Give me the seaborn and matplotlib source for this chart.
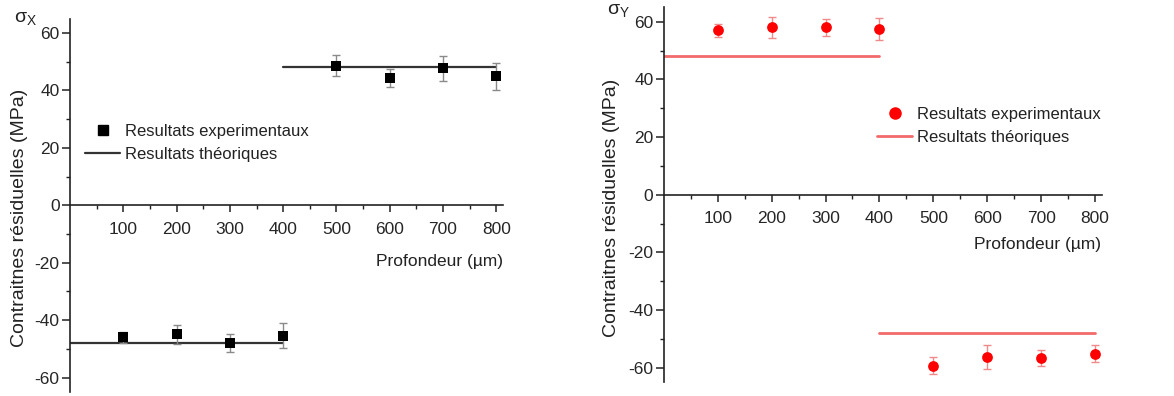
import numpy as np
import pandas as pd
import matplotlib
matplotlib.use("Agg")
import matplotlib.pyplot as plt
from matplotlib.lines import Line2D
from matplotlib.ticker import MultipleLocator, FixedLocator
import seaborn as sns

# ---- data ----
depth = [100, 200, 300, 400, 500, 600, 700, 800]
sigma_x = [-46.0, -44.9, -48.0, -45.4, 48.6, 44.3, 47.7, 44.9]
sigma_x_err = [2.0, 3.3, 3.0, 4.4, 3.6, 3.2, 4.3, 4.6]
sigma_y = [57.0, 58.0, 58.0, 57.5, -59.3, -56.4, -56.6, -55.1]
sigma_y_err = [2.2, 3.5, 3.0, 3.8, 3.0, 4.2, 2.7, 3.0]
theo_x_seg = [0, 0, 1, 1]
theo_x_pos = [0, 400, 400, 800]
theo_x_val = [-48, -48, 48, 48]
theo_y_val = [48, 48, -48, -48]
xticks = [100, 200, 300, 400, 500, 600, 700, 800]
yticks = [-60, -40, -20, 0, 20, 40, 60]

sns.set_style("white")
plt.rcParams['font.family'] = ['Liberation Sans', 'DejaVu Sans']
plt.rcParams['axes.unicode_minus'] = False
plt.rcParams['mathtext.fontset'] = 'custom'
plt.rcParams['mathtext.rm'] = 'Liberation Sans'
plt.rcParams['mathtext.it'] = 'Liberation Sans'

W, H = 1174, 396
fig = plt.figure(figsize=(W / 100, H / 100), dpi=100)

def px_axes(left, top, right, bottom):
    return fig.add_axes([left / W, 1 - bottom / H, (right - left) / W, (bottom - top) / H])

ax1 = px_axes(70, 18.6, 502.7, 391.9)
ax2 = px_axes(663.8, 7.3, 1101.5, 382.1)

def style(ax):
    ax.set_xlim(0, 812)
    ax.set_ylim(-65, 65)
    for s in ['top', 'right']:
        ax.spines[s].set_visible(False)
    ax.spines['bottom'].set_position(('data', 0))
    for s in ['left', 'bottom']:
        ax.spines[s].set_color('#222222')
        ax.spines[s].set_linewidth(1.2)
    ax.xaxis.set_major_locator(FixedLocator(xticks))
    ax.xaxis.set_minor_locator(FixedLocator([50 + 100 * i for i in range(8)]))
    ax.yaxis.set_major_locator(FixedLocator(yticks))
    ax.yaxis.set_minor_locator(MultipleLocator(10))
    ax.tick_params(axis='x', which='major', direction='out', length=5, width=1.1,
                   labelsize=12.5, pad=7, color='#222222', bottom=True)
    ax.tick_params(axis='x', which='minor', direction='out', length=3, width=1.0,
                   color='#222222', bottom=True)
    ax.tick_params(axis='y', which='major', direction='out', length=5.5, width=1.1,
                   labelsize=12.5, pad=2, color='#222222', left=True)
    ax.tick_params(axis='y', which='minor', direction='out', length=3, width=1.0,
                   color='#222222', left=True)
    ax.set_ylabel("Contraitnes résiduelles (MPa)", fontsize=14, color='#222222')
    ax.set_xlabel("Profondeur (µm)", fontsize=12.5, color='#222222')
    ax.xaxis.label.set_ha('right')
    ax.xaxis.label.set_va('center')

# ---- left panel ----
df_tx = pd.DataFrame({'x': theo_x_pos, 'y': theo_x_val, 'seg': theo_x_seg})
sns.lineplot(data=df_tx, x='x', y='y', units='seg', estimator=None,
             color='#333333', linewidth=1.6, ax=ax1, zorder=2)
ax1.errorbar(depth, sigma_x, yerr=sigma_x_err, fmt='none', ecolor='#8a8a8a',
             elinewidth=1.0, capsize=3, capthick=1.0, zorder=3)
sns.scatterplot(x=depth, y=sigma_x, marker='s', color='black', s=60,
                linewidth=0, ax=ax1, zorder=4)
style(ax1)
ax1.yaxis.set_label_coords(-0.097, 0.466)
ax1.xaxis.set_label_coords(1.0, 0.348)

# ---- right panel ----
df_ty = pd.DataFrame({'x': theo_x_pos, 'y': theo_y_val, 'seg': theo_x_seg})
sns.lineplot(data=df_ty, x='x', y='y', units='seg', estimator=None,
             color='#f26a6a', linewidth=2.0, ax=ax2, zorder=2)
ax2.errorbar(depth, sigma_y, yerr=sigma_y_err, fmt='none', ecolor='#f08a8a',
             elinewidth=1.0, capsize=3, capthick=1.0, zorder=3)
sns.scatterplot(x=depth, y=sigma_y, marker='o', color='#ff0000', s=60,
                linewidth=0, ax=ax2, zorder=4)
style(ax2)
ax2.yaxis.set_label_coords(-0.100, 0.465)
ax2.xaxis.set_label_coords(1.0, 0.366)

# ---- legends ----
h1 = [Line2D([], [], marker='s', color='black', linestyle='none', markersize=7),
      Line2D([], [], color='#333333', linewidth=1.6)]
h2 = [Line2D([], [], marker='o', color='#ff0000', linestyle='none', markersize=8),
      Line2D([], [], color='#f26a6a', linewidth=2.0)]
labels = ["Resultats experimentaux", "Resultats théoriques"]
fig.legend(h1, labels, loc='upper left', bbox_to_anchor=(85 / W, 1 - 124 / H),
           frameon=False, fontsize=12, handlelength=2.1, handletextpad=0.3,
           borderpad=0, borderaxespad=0, labelspacing=0.5, labelcolor='#222222')
fig.legend(h2, labels, loc='upper left', bbox_to_anchor=(877 / W, 1 - 107 / H),
           frameon=False, fontsize=12, handlelength=2.1, handletextpad=0.3,
           borderpad=0, borderaxespad=0, labelspacing=0.5, labelcolor='#222222')

# ---- sigma labels ----
fig.text(14 / W, 1 - 10 / H, r'$\sigma_{\mathrm{X}}$', fontsize=14, va='top', ha='left',
         color='#222222')
fig.text(607 / W, 1 - 2 / H, r'$\sigma_{\mathrm{Y}}$', fontsize=14, va='top', ha='left',
         color='#222222')

fig.savefig("out.png", dpi=100)
